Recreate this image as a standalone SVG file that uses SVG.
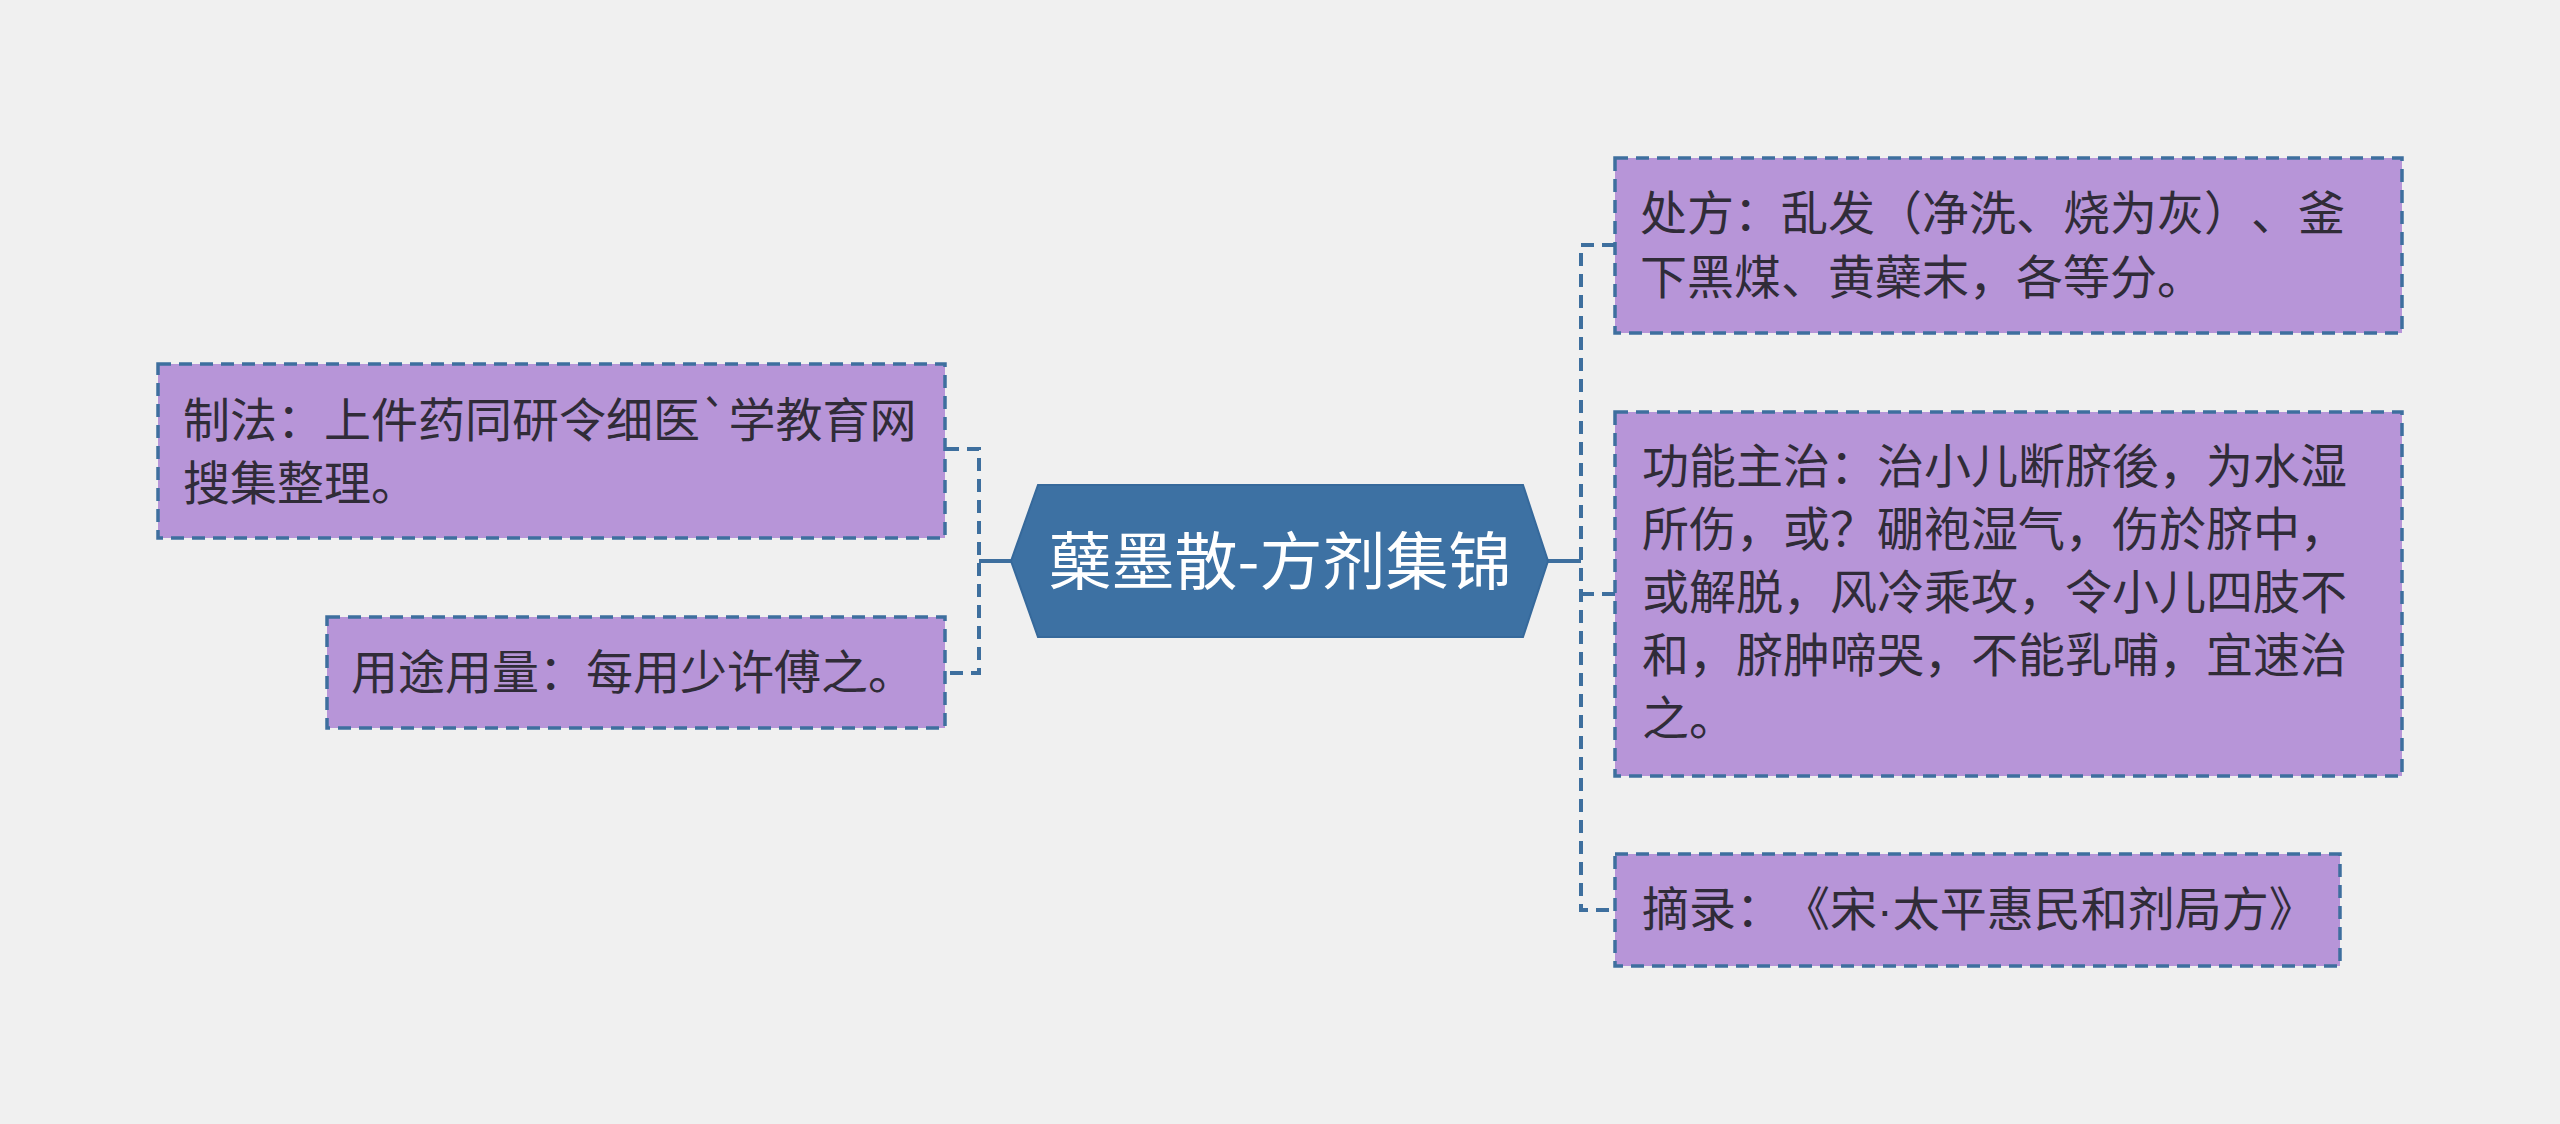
<svg xmlns="http://www.w3.org/2000/svg" width="2560" height="1124" viewBox="0 0 2560 1124">
<style>
.bg{fill:#f0f0f0}
.box{fill:#b795d8;stroke:#3e6f9e;stroke-width:3.5;stroke-dasharray:13 8}
.t{font-family:"Noto Sans CJK SC","Noto Sans",sans-serif;font-size:47px;fill:#302c38;text-spacing-trim:space-all}
.ct{font-family:"Noto Sans CJK SC","Noto Sans",sans-serif;font-size:63px;fill:#ffffff}
.lat{font-family:"Liberation Sans",sans-serif}
.solid{stroke:#3e6f9e;stroke-width:4;fill:none}
.dash{stroke:#3e6f9e;stroke-width:4;fill:none;stroke-dasharray:13 8}
</style>
<rect class="bg" x="0" y="0" width="2560" height="1124"/>
<g id="connectors">
<line class="solid" x1="979" y1="561" x2="1012" y2="561"/>
<path class="dash" d="M946 449 H979 V673 H946"/>
<line class="solid" x1="1548" y1="561" x2="1581" y2="561"/>
<path class="dash" d="M1615 245 H1581 V910 H1615"/>
<line class="dash" x1="1581" y1="594" x2="1615" y2="594"/>
</g>
<g id="center">
<polygon points="1011,561 1038,485 1523,485 1548,561 1523,637 1038,637" fill="#3d71a3" stroke="#36699b" stroke-width="2"/>
<text class="ct" x="1280" y="584" text-anchor="middle">蘖墨散-方剂集锦</text>
</g>
<g id="node-zhifa">
<rect class="box" x="158" y="364" width="787" height="174"/>
<text class="t" x="183" y="437">制法：上件药同研令细医`学教育网</text>
<text class="t" x="183" y="500">搜集整理。</text>
</g>
<g id="node-yongtu">
<rect class="box" x="327" y="617" width="618" height="111"/>
<text class="t" x="351" y="689">用途用量：每用少许傅之。</text>
</g>
<g id="node-chufang">
<rect class="box" x="1615" y="158" width="787" height="175"/>
<text class="t" x="1640" y="230">处方：乱发（净洗、烧为灰）、釜</text>
<text class="t" x="1640" y="294">下黑煤、黄蘗末，各等分。</text>
</g>
<g id="node-gongneng">
<rect class="box" x="1615" y="412" width="787" height="364"/>
<text class="t" x="1642" y="483">功能主治：治小儿断脐後，为水湿</text>
<text class="t" x="1642" y="546">所伤，或？硼袍湿气，伤於脐中，</text>
<text class="t" x="1642" y="609">或解脱，风冷乘攻，令小儿四肢不</text>
<text class="t" x="1642" y="672">和，脐肿啼哭，不能乳哺，宜速治</text>
<text class="t" x="1642" y="735">之。</text>
</g>
<g id="node-zhailu">
<rect class="box" x="1615" y="854" width="725" height="112"/>
<text class="t" x="1642" y="926">摘录：《宋<tspan class="lat">·</tspan>太平惠民和剂局方》</text>
</g>
</svg>
